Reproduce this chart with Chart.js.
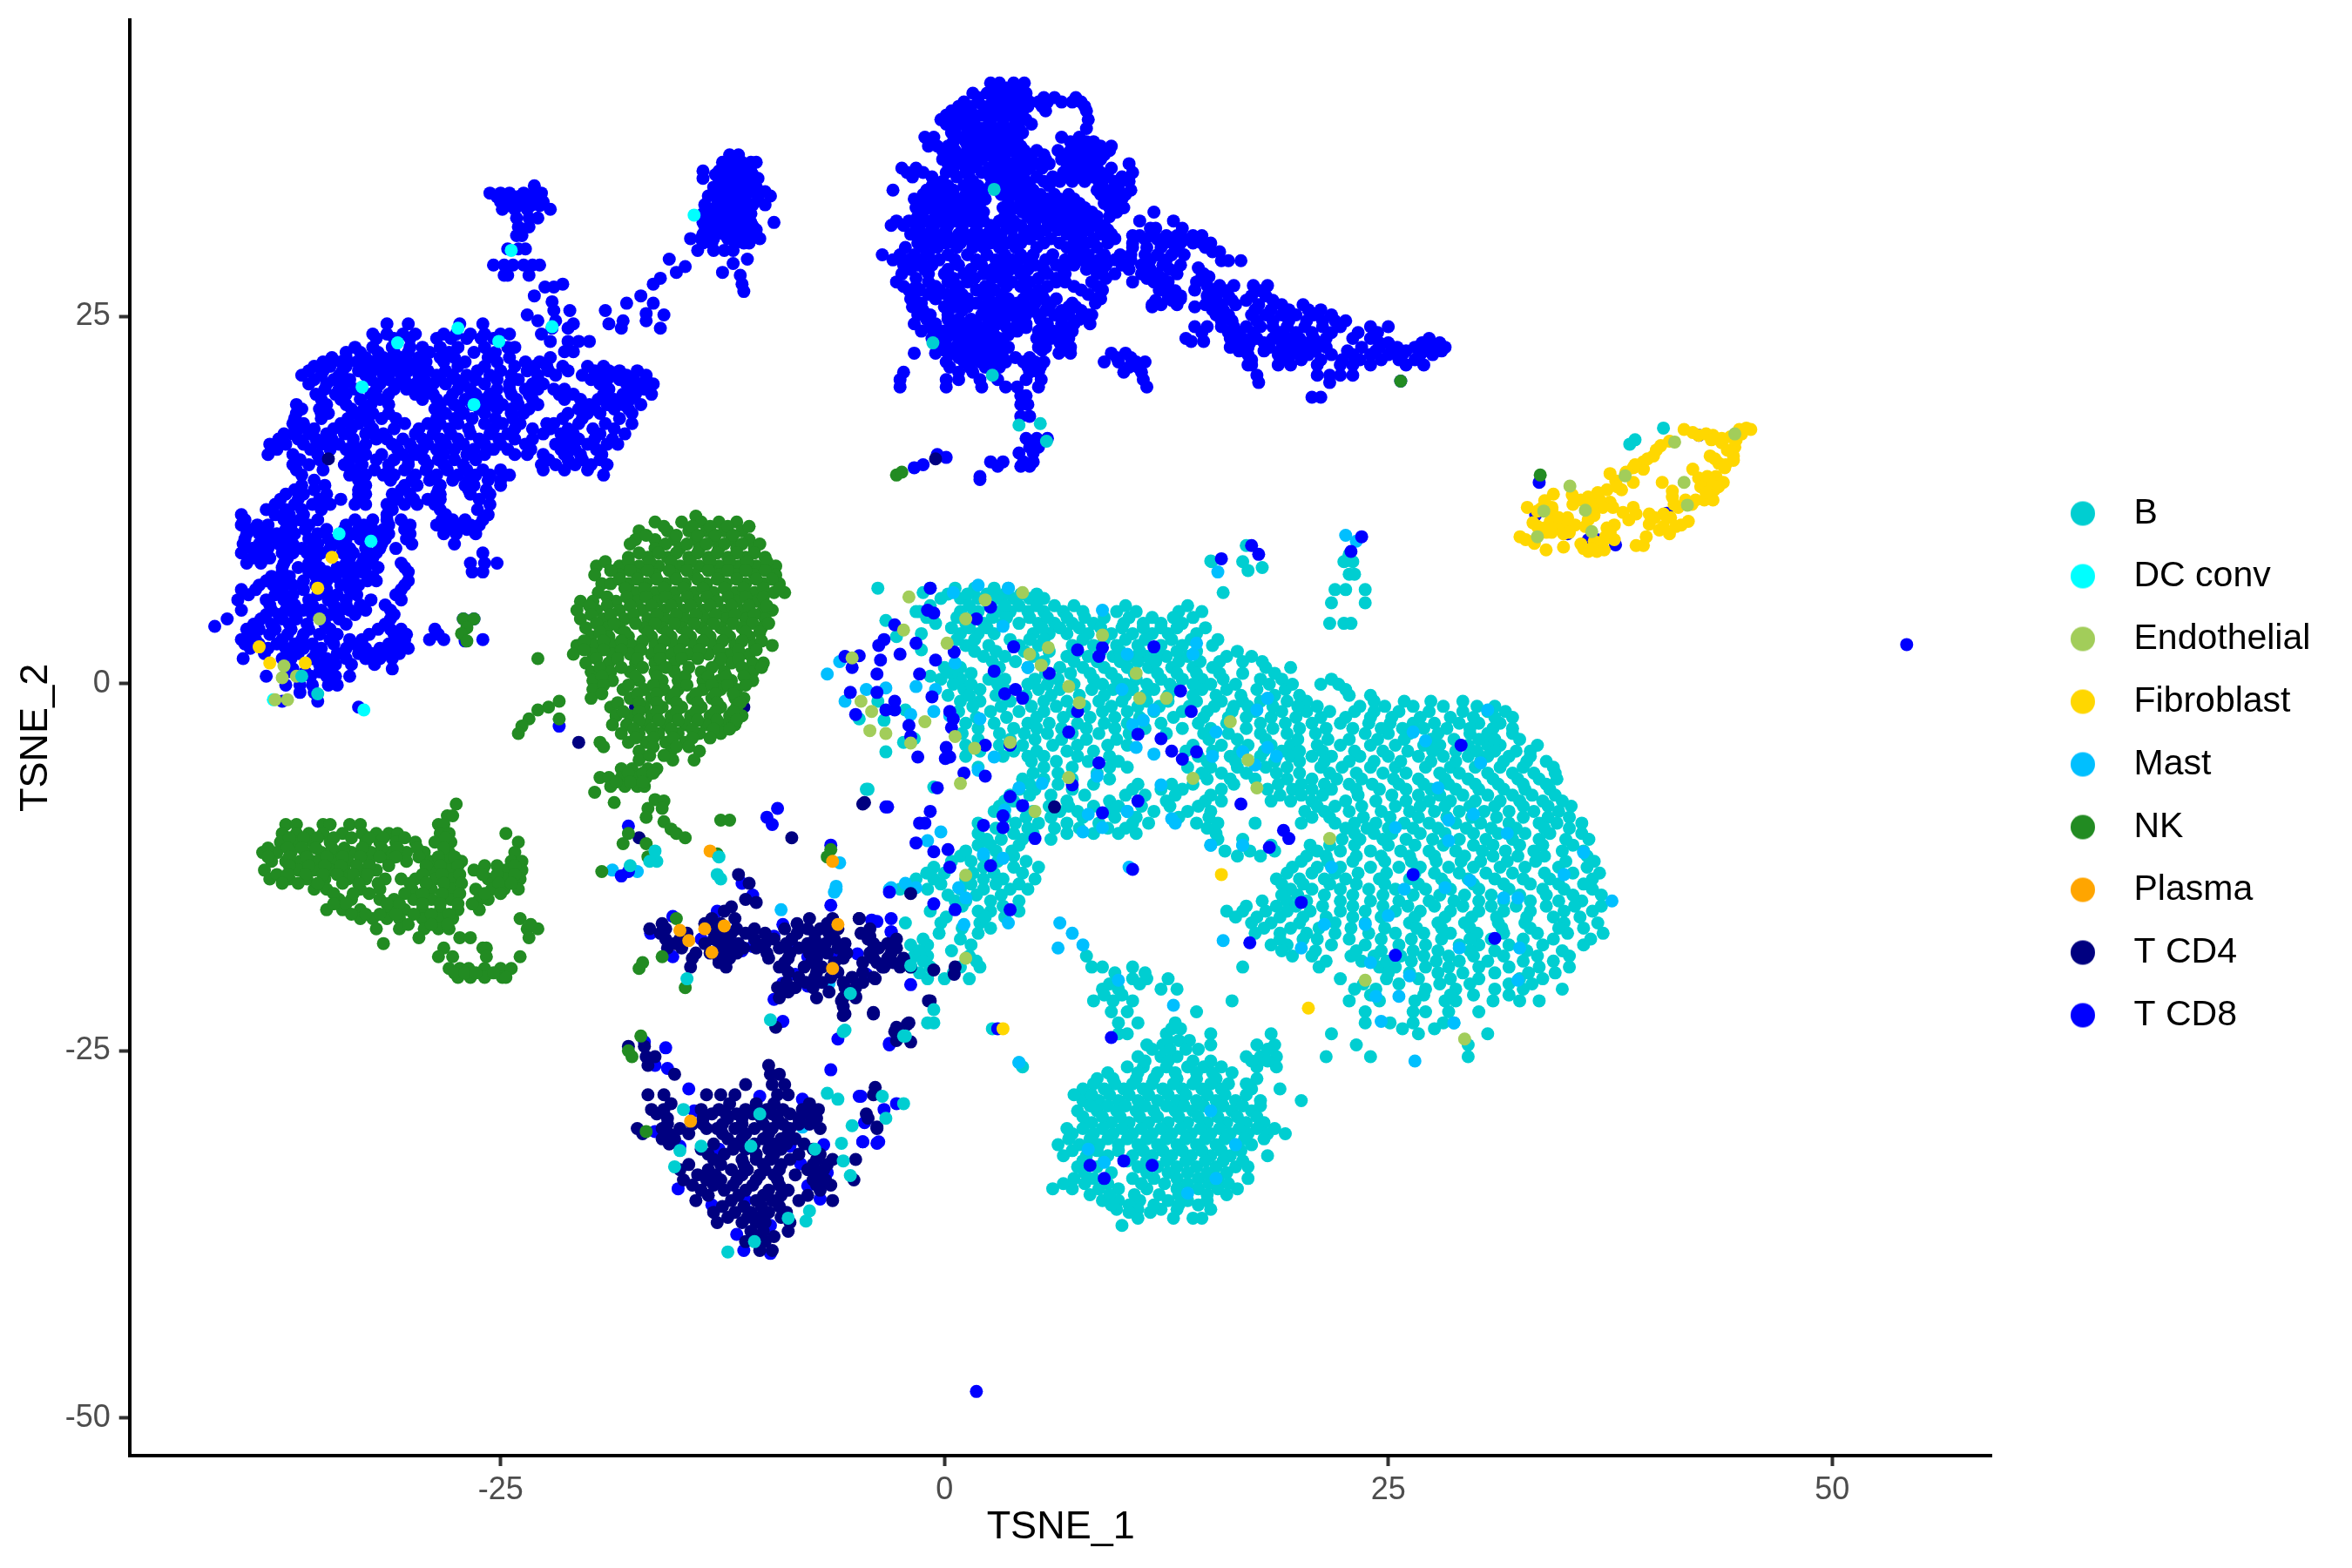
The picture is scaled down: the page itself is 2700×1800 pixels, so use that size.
<!DOCTYPE html>
<html>
<head>
<meta charset="utf-8">
<title>TSNE</title>
<script src="https://cdn.jsdelivr.net/npm/chart.js@4"></script>
<style>
  html, body { margin: 0; padding: 0; background: #fff; }
  canvas { display: block; }
</style>
</head>
<body>
<canvas id="graf" width="2700" height="1800"></canvas>
<script>
// values. *Rows = [TSNE_2, TSNE_1, TSNE_1, ...], *Pts = [TSNE_1, TSNE_2]
const kategorie = ['B', 'DC conv', 'Endothelial', 'Fibroblast', 'Mast', 'NK', 'Plasma', 'T CD4', 'T CD8'];
const barvy = ['#00CED1', '#00FFFF', '#A2CD5A', '#FFD700', '#00BFFF', '#228B22', '#FFA500', '#000080', '#0000FF'];
const xTicks = [-25, 0, 25, 50];
const yTicks = [-50, -25, 0, 25];

const bRows = [
[8.35,22.6,15],[7.9,17.9],[7.45,22.8,23.1],[6.5,-3.75,-.8,.6,1.7,2.8,3.6],[6.4,22,22.6,23.7],[5.8,-.2,.9,1.9,3,3.9,4.8,5.6],[5.5,21.8,23.7],
[4.9,-1.4,.9,1.9,3,3.7,4.7,5.6,6.7,7.8,9.7,10.8,13.2,14.5],[4.1,-.5,1.2,2.2,3.3,4.2,5.3,6.2,7.2,8.4,10.1,11.2,12.2,13.4,21.7,22.5,22.9],
[3.4,-1.3,.9,1.9,2.8,5,5.9,6.9,8.1,9.4,10.6,11.7,12.6,14.2],[2.6,1.2,2.5,4.2,5.3,7.2,8.4,9.7,10.9,12.2,13.4,15.1],
[1.85,2.2,3.4,5,6.9,8.1,9.5,10.4,11.4,12.5,13.7,15.9,17.3],[1.1,0,.9,3.1,4.7,6.5,7.8,9,10.3,11.5,12.8,14,15.1,18.1,19.5],
[.3,-.2,.9,2.5,3.4,5.1,6.4,8.4,9.7,10.8,12.2,13.4,14.5,15.7,17.8,19,21.8],[-.4,1.1,2,3.4,5.3,6.5,8.3,9.5,10.6,11.8,13.1,14.5,15.9,17.6,19.2,22.6],
[-1.2,.9,2,3.7,5.6,6.9,8.7,10,11.4,12.6,14.2,15.6,16.8,17.8,19.3,20.4,24.2,25.9,27.4,29.2],
[-1.9,.8,2.6,4.2,5.6,7.2,8.9,10.3,11.8,13.4,14.8,16.2,17.5,19,20.4,21.7,23.1,24.2,25.6,27.3,29.2,30.6,31.6],
[-2.7,1.2,2.8,4.7,5.9,7.5,9,10.3,12.2,14.3,15.9,17.8,19.2,20.7,22.3,23.9,25.1,26.4,27.6,29,30.1,31.3],
[-3.4,1,3.1,4.5,5.8,7.2,8.7,10.4,12.5,14.6,16,17.8,19.3,20.9,23.7,25,26.2,27.8,29.6,30.6,32],
[-4.2,1.2,3.1,4.4,6.1,7.5,9.2,10.3,14,15.6,17.1,18.4,19.5,21,22.3,24,25.4,27,27.9,29.5,30.6,31.3,33.4],
[-4.95,1.2,3.3,4.7,5.6,7.5,9.3,14.3,16.1,17.8,19.5,20.7,21.8,23.4,25,26.7,28.1,29.5,30.6,31.8,33],
[-5.7,1.9,5.6,7.2,9.3,10.3,13.7,15,16.5,18.1,19.3,21.2,22.4,24,25.4,27.1,28.5,29.9,31.3,32.6,34.3],
[-6.5,4.4,5.6,7.2,9.3,14.8,16.1,17.5,19.3,20.7,22.1,23.5,25.3,26.7,28.2,29.5,30.9,32.3,33.5,34.5],
[-7.2,4.2,5.1,7.2,10.6,12.2,13.4,15.6,18.2,19.6,20.7,21.8,23.2,24.5,26,27.4,28.8,30.1,31.5,32.7,34.1],
[-8,3.4,3.9,6.9,9.3,10.9,12.5,14.7,15.6,18.4,19.5,20.7,22.6,24.3,26,27.3,28.5,29.9,31.3,32.4,33.7,34.8],
[-8.7,2.8,5,6.5,7.5,9.3,10.3,11.8,13.7,15,20.3,21.4,22.8,24.6,26.2,27.6,29,30.4,31.8,33.2,34.6],
[-9.5,1.9,4,5.3,6.9,8.7,10.6,11.5,14.2,15.4,17.5,20.1,22,23.1,24.3,25.9,27.3,28.8,30.2,31.8,33.5,34.5,35.9],
[-10.2,1.9,3.9,5,6.9,8.4,9.8,10.8,15.3,23.1,24.2,25.2,26.8,28.2,29.8,31.2,32.7,34.1,35.9],
[-11,1.9,2.6,4.2,15,16.8,18.4,20.6,21.7,23.1,25,26.5,28.1,29.8,30.9,32.4,33.7,35.4],
[-11.75,.9,2.2,3.9,16.5,17.8,20.4,21.5,23.2,24.6,26.2,27.6,29.3,30.9,32.3,33.8,36.2],
[-12.5,-.6,.3,2.2,3.9,5.3,19.6,21,22.3,24,25.6,26.8,28.4,29.8,31.3,32.7,34.6,36.2],
[-13.3,-1.6,-.6,1.2,2.2,3.3,5.1,18.7,20,21.4,22.6,24.5,26.2,28,29.5,31,32.6,34.1,36.5],
[-14,-2.5,-.95,.9,2.2,3.7,4.7,19.5,20.7,22.3,23.9,25.4,27.1,28.5,30.1,31.8,33.7,34.9,36.5],
[-14.8,.6,1.2,2.6,4.2,17.9,19.3,20.4,22.3,24,25.6,27.3,28.7,30.1,31.5,33,34.6,35.9],
[-15.5,-.8,1.9,2.6,4.2,15.9,16.8,18.1,19.3,20.6,22.3,23.7,25.4,26.8,28.5,30.1,31.5,33,34.9,36.5],
[-16.3,-2.2,-.2,2,17.3,18.4,20,22,23.7,26.2,27.8,29.3,31.2,32.7,34.9,36.8],
[-17,-.3,1.9,17.5,18.9,20.4,22,23.9,25.4,27,28.5,30,31.5,33.4,35.1,37.1],
[-17.8,-1.9,-.95,1.5,18.4,19.3,21.8,23.7,25.6,27.1,29,30.1,31.8,33.7,36],
[-18.55,-1.7,-.95,1.4,8,19.6,20.7,22.9,24.2,25.7,27,28.4,29.8,31.5,33.4,35.2],
[-19.3,-1.9,-.8,.9,2,8.3,8.9,10.6,16.8,21.1,24.5,25.4,27.1,28.4,30.1,31.8,33.5,35.2],
[-20.1,-.95,0,1.4,10.6,11.4,12.6,22.3,24.9,26.7,28.5,30.1,32.4,33.7],[-20.8,8.9,9.8,12.2,13.1,23.1,24.3,27.1,28.8,31,32.6,34.8],
[-21.6,8.4,9.5,10.6,16.2,22.8,24.5,26.5,28.2,28.8,30.9,32.4,33.5],[-22.35,9.4,10.3,14.2,23.7,26.4,27.1,28.4,30.1],
[-23.1,-.6,-.95,9.8,10.9,13,23.7,25.1,26.4,28.1,28.7],[-23.85,9.8,10.3,12.5,15,18.4,21.8,26.7,30.6],[-24.6,11.4,12.3,15,17.6,18.6,23.2,29.5],
[-25.4,10.9,12.2,13.1,17,17.8,18.7,21.5,24,29.5],[-26.1,10.3,11.2,12.5,13.7,14.6,15.6,17.6,18.7],[-26.9,8.6,9.5,10.8,11.8,13.1,14.2,15.3,17.6],
[-27.6,7.8,9,10.1,11.2,12.3,13.4,14.5,15.6,17.3,18.9],[-28.4,7.8,8.7,9.8,10.9,12,13.1,14.2,15.3,16.4,17.8,20.1],
[-29.1,7.5,8.6,9.7,10.8,11.8,13,14,15.1,16.2,17.3],[-29.9,8.3,9.4,10.4,11.5,12.6,13.7,14.8,15.9,17,18],
[-30.65,7.2,8.4,9.5,10.6,11.7,12.8,13.9,15,16.1,17.1,18.2,19.2],[-31.4,6.4,7.6,8.7,9.8,10.9,12,13.1,14.2,15.3,16.4,17.3],
[-32.15,6.7,8,9.2,10.6,11.7,12.8,13.9,15,16.1,18.2],[-32.9,7.5,8.6,10.9,12,13.1,14.2,15.3,16.4,17.1],[-33.7,7.3,8.4,10.6,11.8,13.1,14.3,15.4,17.1],
[-34.4,6.1,7.2,8.7,9.8,11.4,13.1,14.3,15.4,16.5],[-35.2,8.9,9.8,11,12.6,13.7,14.8],[-35.8,9.7,10.9,12.2,13.1,15],[-36.4,10.9,12.9,14,14.5],[-36.9,10],
// mezi radky
[6.1,.2,1.3,2.4,3.4,4.3,5.2],[5.3,-.8,1.4,2.5,3.4,4.2,5.2,6.2,7.3,10.2,13.7],[4.5,-1,.7,1.5,2.7,3.5,4.8,5.8,6.9,7.9,9,10.4,11.7,12.9,14],[3.8,.4,1.4,2.4,5.5,6.5,7.6,8.8,10,11.2,12.2,13.1,14.7],
[3,.7,1.7,3.7,4.8,5.6,7.8,9,10.2,11.3,12.8,13.9,15.4],[2.2,1.7,2.9,4.5,5.9,7.5,8.8,9.9,11,12,13.1,14.2,16.5],[1.5,2.7,4,5.6,7.3,8.6,9.9,10.9,11.9,13.2,14.4,15.5,16.8,17.9],[.7,.4,1.5,2.8,5.7,7.1,8.2,9.4,10.7,12,13.1,14.2,15.5,16.8,18.6],
[-.05,.5,1.5,3,4.7,5.8,7.3,8.9,10.2,11.4,12.7,14,15,16.4,18.3,19.6,21.2,22.2],[-.8,.2,1.4,2.9,4.6,6,7.6,9,10.2,11.3,12.6,14,15.3,16.7,18.6,20,22.8,24],[-1.55,1.6,3.2,4.9,6.3,7.9,9.4,10.9,12.1,13.8,15.2,16.3,17.1,18.5,19.9,21,23.4,24.8,26.4,28.1,30,31],
[-2.3,1.8,3.5,5.2,6.7,8.2,9.6,11,12.9,14.6,16,17,18.4,19.8,21.2,22.6,24,25.2,26.8,28.5,29.8,31,32],[-3.05,1.9,3.9,5.2,6.6,8,9.6,11.3,13.4,15,17,18.5,20,21.5,23,24.6,25.8,27,28.3,29.6,30.9,32],[-3.8,1.9,3.7,5.1,6.6,8,9.7,14.9,16.5,18.1,19.9,21.6,22.8,24.4,25.9,27.4,28.7,30.1,31,32.4],
[-4.6,2,3.9,5.2,6.9,8.4,13.6,15.1,16.6,18,19,20,21.3,23.1,24.7,26.1,27.5,28.8,30,31,32.2,33],[-5.3,4.9,6.3,8.1,9.8,14.8,16.4,18.6,20,21.4,22.8,24.2,25.7,27.4,28.8,30.2,31.5,32.8,33.9],[-6.1,5,6.4,8.6,14.5,15.6,17,18.7,20,21.7,23.2,24.7,26,27.9,29,30.6,32,33.2,34.4],
[-6.85,4.8,6.4,8.4,10.9,12.8,14,16.3,18.8,20.1,21.4,22.8,24.1,25.6,27,28.4,29.9,31.2,32.6,33.9],[-7.6,3.7,4.8,6,7.9,10.2,11.3,13,15,18.9,20.1,21.3,23.3,25.2,26.7,27.9,29.2,30.6,32,33.1,34.4],[-8.35,3.1,4.4,5.9,7,8.4,9.8,11.1,12.7,14.3,21,22,23.5,25.4,26.8,28.2,29.6,31,32.6,34,35.3],
[-9.1,3.4,4.6,6,7.8,9.6,10.8,13.2,14.9,20.7,21.7,23.6,25.1,26.7,28.3,29.7,31.1,32.6,34,35.2],[-9.85,2.9,4.7,6.2,7.6,9.2,10.2,14.8,22.6,23.8,25,26.4,27.8,29.4,30.8,32.2,33.8,35.2],[-10.6,2.4,3.2,4.4,6,15.4,16.8,22.4,23.4,24.7,26,27.5,29,30.5,32,33.5,35,36.3],
[-11.4,1.2,2.9,3.8,15.8,17.2,18.6,21,22.3,24,25.7,27.3,28.8,30.3,31.6,33.2,34.8,36],[-12.1,.4,1.5,3,4.6,20.1,21.6,23,24.8,26.3,27.7,29.1,30.2,31.7,33.3,35,36.6],[-12.9,-1,0,1.6,2.8,4.4,19.3,20.7,22,23.3,24.9,26.5,27.6,29,30.5,32,33.8,35.4,36.9],
[-13.65,-1.8,-.2,1.5,2.9,4.2,19,20.2,21.7,23.2,24.8,26.7,28.2,29.8,31.5,33,34.6,36],[-14.4,.2,1.8,3.2,19,19.9,21.4,23,24.7,26.4,27.9,29.3,30.8,32.4,33.9,35.4,37],[-15.15,1,3.3,17,18.7,19.8,21.3,23,24.7,26.1,27.6,29.2,30.8,32.2,33.9,35.5,37],
[-15.9,.1,2.3,3.4,16.4,17.6,18.9,20.2,21.5,23,24.6,26.5,28.2,29.7,31.1,32.8,34.3,35.8],[-16.65,1,2.6,18,19.5,21.1,22.9,24.8,26.6,28,29.6,31.4,33,34.6,36],[-17.4,-1.2,.9,18.9,20.2,21,22.8,24.6,26.3,28,29.6,30.8,32.6,34.3,36.4],
[-18.2,-1.4,.4,19,20.9,23.2,24.6,26.4,27.8,29.6,31,32.8,34.8],[-18.9,-1.2,1.8,21.5,23.5,24.9,26.3,27.7,29,30.6,32.6,34.3],[-19.7,-1.4,.5,9.6,11.3,25,26.2,27.8,29.2,31,32.9,34.4],[-20.45,9.3,11,23.6,25.6,27.9,29.6,31.8,33.1],[-21.2,9,10,24,27,28.5,29.8,31.8],[-23.5,25.8,27.6,12.8,13.3],[-24.3,12.6,13.2,13.8],
[-24.9,11.7,12.7,14.3,18.2,13.6],[-25.7,11.3,12.6,14,15,17.3,18.2],[-26.5,9.2,10.9,12,13,14.2,15.1,16.2],[-27.25,8.4,9.6,10.6,11.7,12.9,14,15,16,17],[-28,7.3,8.3,9.3,10.4,11.5,12.6,13.6,14.8,15.8,17],[-28.75,8.2,9.2,10.2,11.3,12.5,13.5,14.6,15.7,16.8,17.8],
[-29.5,7.8,8.9,9.9,11,12,13.2,14.3,15.4,16.5,17.6],[-30.3,6.9,7.8,8.9,10,11.1,12.2,13.3,14.4,15.5,16.6,17.6,18.6],[-31,7,8.2,9.2,10.3,11.4,12.5,13.6,14.7,15.8,16.9,18],[-31.8,7.2,8.6,9.8,11.2,12.3,13.4,14.5,15.6,16.7],[-32.5,7.8,9,10.3,11.4,12.5,13.6,14.7,15.7,16.8],
[-33.3,7.9,9.4,11.4,12.6,13.7,14.8,15.9],[-34.05,6.7,7.9,9.2,11.1,12.4,13.7,14.9,16],[-34.8,8.2,9.3,10.7,12.1,13.2,14.8,15.9],[-35.5,9.4,10.4,11.8,13.2,14.3],[-36,10.4,11.6]
];
const bPts = [[-3.3,4.3],[-2.7,3.2],[-3.4,-2.5],[-3.3,-4.65],[-4.8,-2.4],[-3.75,-1.2],[-1.3,2.3],[.15,.8],[-.8,.5],[-2.2,-1.8],[-1.7,-3.75],[-2.3,-4],[-4.4,-7.2],[-.6,-7.05],[-1.2,6.2],[-1.6,4.9],
[22.8,8.8],[22.5,8.3],[23,8.3],[17,9.4],[16.8,8.3],[15.05,8.3],[15.7,6.2],[17.1,7.7],[4.2,-25.8],[4.4,-26.1],[2.7,-23.5],[40.5,17.4],[38.9,16.6],[38.6,16.3]];
// B dots that sit on top of the other clusters
const bNahoreRows = [
[33.65,2.8],[23.2,-.65],[21,2.7],[17.6,4.2],[17.7,5.4],[16.5,5.75],[-.7,-35.3],[.5,-36.2],[-11.4,-16.3],[-12.1,-16.2],[-12.1,-16.6],[-12.4,-17.7],[-13,-12.8],[-13.3,-12.6],[-11.8,-12.7],
[-20.1,-14.5],[-7.2,-4.3],[-22.9,-9.8],[-23.7,-5.7],[-24,-2.3],[-21.1,-5.3],[-27.9,-6.6],[-28.3,-6],[-28.1,-3.5],[-28.6,-2.3],[-29.6,-3.3],[-30.1,-5.2],[-31.3,-5.8],[-31.7,-7.3],[-32.5,-5.7],[-33.5,-5.3],
[-32.9,-15.2],[-29.3,-10.4],[-35.9,-7.6],[-36.6,-7.8],[-36.4,-8.8],[-38.7,-12.2],[-38,-10.7],[-29,-14.7],[-31.8,-14.9],[-31.5,-13.7],[-31.5,-10.9],[-24,-2.2],[-23.6,-5.6],[-22.2,-.6],[-19.2,-1.9]
];
const dcPts = [[-24.4,29.5],[-14.1,31.9],[-32.8,20.2],[-30.8,23.2],[-25.1,23.3],[-27.4,24.2],[-26.5,19],[-32.3,9.7],[-34.1,10.2],[-22.1,24.3],[-37.8,-1.1],[-32.7,-1.8]];
const endoPts = [[-35.2,4.4],[-37.2,1.2],[-37.3,.4],[-36.5,.5],[-37.7,-1.1],[-37,-1.1],
[-2,5.9],[4.4,6.2],[2.3,5.7],[-2.3,3.65],[1.2,4.4],[.15,2.75],[4.8,2],[5.85,2.45],[5.45,1.25],[8.9,3.3],[10.8,.7],[7,-.2],[-5.2,1.75],[-4.7,-1.2],[-4.1,-1.9],[-4.2,-3.2],[-3.3,-3.4],[-1.1,-2.6],[-1.9,-4.05],[1.7,-4.4],[3.7,-4],[16.1,-2.6],[17.1,-5.2],[14,-6.45],[17.6,-7.1],[.9,-6.8],[7,-6.4],[5.1,-8.7],[1.2,-13.05],[1.2,-18.7],[21.7,-10.55],[23.7,-20.2],[29.3,-24.2],[12.5,-1],[11,-1],[7.6,-1.3],[.6,-3.6],
[44.52,17],[41.13,16.45],[38.34,14.15],[41.66,13.7],[35.23,13.45],[33.76,11.75],[36.1,11.8],[41.85,12.15],[36.46,10.35],[33.4,10]];
const fibroRows = [
[17.4,45.17],[17.3,41.66,44.77,45.42],[17.1,42.15],[16.9,43.29,42.48],[16.8,44.27],[16.7,43.78],[16.5,40.84],[16.4,43.78],[16.2,40.35],[16.1,44.52],[15.5,39.94,43.13,44.44],[15.2,44.44],[15.1,39.37],[15,43.62],[14.7,38.8,43.95],[14.6,39.37,42.15],[14.4,38.39],[14.3,37.49],[14.1,42.97,43.46],[14,42.48],[13.8,37.81,43.13],[13.7,38.8,40.43,43.87,42.8],[13.2,37.32,38.14,43.37],[13.1,41],[12.85,35.36],[12.9,34.3],[12.7,36.26,41],[12.5,36.91,35.85,41.74,42.31,42.8,43.29],[12.45,33.81],[12.35,37.49],[12,32.83,37.08,37.65,41.33,34.22],[11.85,34.22],[11.75,33.4],[11.65,38.22],[12,38.8],[11.55,39.7,40.51,38.96],[11.45,36.59],[11.15,36.26,38.55],[11.05,34.13,41.9],[10.95,33.15],[10.85,34.95,39.7],[10.8,35.52,37.73,41.5],[10.6,34.54,33.81,37.32],[10.45,40.27],[10.2,34.87,40.84],[10,32.42,37.24,39.53],[9.8,32.74,37.73],[9.55,33.23],[9.4,38.96,39.37],[9.3,34.87],[9.5,35.85],[9.1,33.89,37.16],[9,36.26,36.75],
[17,42.9,44.9],[16.6,43.2,44.6],[15.9,40.1,44.1],[15.3,39.6,43.4],[14.9,38.9,44],[13.4,42.6,43.6,37.9],[13,42.9,36.8],[12.2,36.3,35.4,42.1,41.1],[11.9,36.5,33.6],[11.3,34.6,35.1,40,40.9],[10.7,33.4,36.1,40.5,41.2],[10.3,33.9,34.2,35.2,37.5],[9.7,33.2,36.6,37.1],[9.2,36,36.5]];
const fibroPts = [[-34.5,8.6],[-38.6,2.5],[-38,1.4],[-36,1.4],[-35.3,6.5],[20.5,-22.1],[3.3,-23.5],[15.6,-13]];
const mastPts = [[8.9,5],[14,2],[14.2,2.75],[18.2,-1],[17.6,-1.8],[18.2,-4.35],[17.5,-5.55],[16.8,-4.65],[18.7,-4.95],[11.8,-1.8],[11.2,-2.5],[10.6,-2.8],[10.8,-4.35],[10,-.4],[10.3,2],[11.8,-4.8],[15.3,-3.3],[15.1,-4.95],[8.6,-6.3],[8.1,-8.9],[8.9,-9.8],[10.3,-8.7],[12.2,-6.9],[13,-9.5],[7.8,-10.1],[3.4,-8.6],[-.2,-10.1],[2.2,-11.6],[3.3,-11.9],[.8,-13.9],[1.2,-14.6],[-3,-13.9],[-1.6,-13.9],[3.6,-16.3],[1.1,-16.4],[7.2,-17],[6.4,-18],[7.8,-17.8],[6.5,-16.3],[15.7,-17.5],[20.1,-18],[21.8,-12.5],[26.4,-3.3],[27.1,-3.9],[30.6,-1.8],[30.2,-5.4],[28.4,-10.7],[25.4,-9.8],[25.9,-14],[31.5,-14.6],[32.3,-14.6],[29,-18],[32.4,-18],[32.3,-20.2],[26.2,-19.9],[25.6,-21.3],[24.3,-21.3],[24.6,-23],[28.7,-23.1],[26.5,-25.7],[37.6,-14.8],[36,-11.5],[34.9,-13],[12.8,-9.2],[10.4,-12.5],[15,-11],[16.8,-11],[21.4,-16.4],[24,-19],[23.7,-16.4],[25,-15.8],[28.2,-13.9],[29.6,-13.4],[31.7,-10.2],[28.4,-9.3],[27.8,-7.1],[29.8,-8.9],[4.2,-25.8],[12.9,-21.9],[9.8,-20.2],[15,-29.1],[9,-32.6],[13.7,-34.7],[16.4,-31.4],[15.3,-33.7],[8.1,-31.7],
[-5.9,1.5],[-6.6,.65],[-4.4,-.4],[-5.6,-1.2],[-3.3,-.3],[-1.6,-.2],[-.5,-.4],[-.6,-1.9],[-1.9,-2.1],[.3,-2.2],[.6,1.4],[-.95,-10.7],[2,-2.4],[1.9,-5.9],[2.8,-5],[3.6,6.5],[1.9,6.7],[.5,6.2],[3.3,3.9],[4.7,1.1],[5.5,-6.8],[4.2,-7.1],[-6.1,-14],
[-18.7,-12.7],[-17.3,-12.8],[-9.2,-15.4],[-8,-30.2],[-6.5,-20.4],[-6.1,-13.8],[-6.2,-14.2],[-5.9,-12.2],[-3.1,-14],[-2.2,-13.6],[22.6,10.1],[23.2,9.7],[15.4,7.6]];
const nkRows = [
[11.4,-14],[11,-16.3,-14.8,-13.7,-12.7,-11.7],[10.4,-17.2,-15.6,-14.4,-13.4,-12.4,-11.4],[9.8,-17.4,-16.3,-15.2,-14,-13,-12,-11],[9.2,-16.3,-14.9,-13.8,-12.7,-11.7,-10.7],
[8.6,-17.8,-16.7,-15.6,-14.4,-13.3,-12.2,-11.2,-10.1],[8,-19.6,-18.3,-17.2,-16.1,-14.9,-13.8,-12.7,-11.6,-10.6,-9.5],[7.4,-19.7,-18.3,-17.3,-16.3,-15.2,-14.1,-12.7,-11.7,-10.7,-9.5],
[6.8,-19.3,-18.8,-17.8,-16.8,-15.7,-14.6,-13.4,-12.3,-11.2,-10.2,-9.3],[6.2,-19.5,-17.4,-16.3,-15.2,-14.1,-13,-11.8,-10.7,-9.6,-9],[5.6,-20.5,-19.8,-18.5,-17.3,-16.2,-15.1,-14,-12.8,-11.7,-10.6],
[5,-20.7,-19.6,-18.3,-17,-15.8,-14.7,-13.6,-12.4,-11.3,-10.2,-9.7],[4.4,-20.5,-19.2,-18,-16.7,-15.7,-14.6,-13.4,-12.3,-11.2,-10.1],[3.8,-20.2,-19,-18.3,-16.9,-15.9,-14.8,-13.7,-12.6,-11.4,-10.3],
[3.2,-19.9,-18.9,-17.8,-16.5,-15.4,-14.3,-13.2,-12.1,-11],[2.6,-20.7,-19.7,-18.7,-17.6,-16.3,-15.2,-14.1,-13,-11.8,-10.7,-9.7],[2,-20.9,-19.8,-18.7,-17.7,-16.5,-15.4,-14.4,-13.3,-12.2,-11],
[1.4,-20.2,-18.9,-17.4,-16.3,-15.2,-12.7,-12,-10.8,-10.2],[.8,-19.9,-18.8,-17.7,-16.3,-15.2,-13.7,-12.4,-10.8],[.2,-19.8,-18.7,-17.2,-15.9,-15,-13.6,-12.7,-12,-10.8],[-.4,-19.8,-18.1,-16.9,-15.8,-15,-13.6,-12.6,-11.7],
[-1,-19.9,-17.7,-16.5,-15.4,-14.2,-13.1,-11.8,-11.3],[-1.6,-18.8,-16.9,-15.9,-14.8,-13.7,-12.6,-11.7],[-2.2,-18.5,-17.7,-16.5,-15.4,-14.3,-13.2,-12.1,-11.4],[-2.8,-18.7,-17.9,-16.8,-15.7,-14.6,-13.4,-12.4,-11.8],
[-3.4,-18.2,-17.2,-16.1,-15,-13.8,-12.6],[-4,-19.4,-17.8,-16.8,-15.7,-14.6],[-4.6,-17.2,-15.4,-13.8],[-5.2,-17.2,-15.3,-14.1],[-5.8,-18.2,-17.6,-16.7,-16.2],[-6.4,-19.4,-18.9,-18.2,-17.4,-16.8],[-7,-18.8,-18,-17.3,-16.9],[-7.4,-19.7],[-8.1,-18.6],
[-8.2,-27.5],[-9,-28,-27.7],[-9.6,-37.1,-36.5,-35,-34.6,-33.5,-32.9,-28.5,-28.2],[-10.2,-37.3,-36.5,-35.8,-35,-33.9,-32.8,-32,-31.3,-30.8,-28.4,-27.9,-24.7],[-10.8,-37.4,-36.5,-35.6,-34.6,-32.6,-31.8,-30.9,-29.8,-28.7,-27.8,-24],
[-11.5,-38.4,-37.6,-36.8,-36,-35.1,-34.3,-33.4,-32.3,-31.2,-30.3,-29.3,-27.9,-24.2],[-12.1,-37.9,-37.1,-36.3,-35.4,-34.5,-33.6,-32.4,-31.3,-30.3,-29,-28,-27.2,-24.4,-23.8],
[-12.7,-38.3,-36.4,-35.5,-34.6,-33.8,-32.9,-32,-28.9,-27.9,-26.5,-26,-24.7,-23.8],[-13.3,-38,-36.9,-35.9,-34.9,-33.6,-32.6,-31.5,-30.6,-29.8,-28.7,-27.7,-25.7,-24.7,-23.9],
[-14,-35.5,-34.8,-32.9,-31.8,-30,-28.9,-27.8,-26.4,-25.5,-24.8,-24],[-14.7,-34.1,-33.4,-31.8,-31,-29.9,-28.9,-27.8,-26.2,-25.7],[-15.4,-34.8,-33.9,-32.9,-31.3,-30.4,-29.4,-28.4,-27.4,-26.2],
[-16,-32.9,-32.2,-31.4,-30.7,-29.4,-28.4,-27.7,-23.9],[-16.7,-32,-30.7,-29.3,-28.5,-27.9,-23.5,-22.9],[-17.3,-29.6,-27.3,-26.7,-23.4],[-17.7,-31.6],[-18,-28.2,-26,-25.8],[-18.6,-28.5,-27.7,-25.8,-23.9],[-19.4,-27.9,-27.3,-26.8,-25.9,-25,-24.4],[-20,-27.4,-26.7,-25.9,-24.9,-24.7],
// mezi radky
[10.7,-15.8,-14.2,-13.2,-12.2,-11],[10.1,-16.8,-15.1,-13.9,-12.9,-11.9],[9.5,-17.7,-15.7,-14.5,-13.4,-12.4,-11.4,-10.4],[8.9,-17.2,-16.1,-15.1,-13.9,-12.8,-11.7,-10.7],[8.3,-19.1,-17.8,-16.6,-15.4,-14.3,-13.2,-12.1,-11.1,-10],[7.7,-18.8,-17.7,-16.7,-15.5,-14.5,-13.3,-12.2,-11.2,-10.1],
[7.1,-18.3,-17.3,-16.2,-15.1,-13.9,-12.8,-11.7,-10.6,-9.7],[6.5,-18,-16.9,-15.8,-14.7,-13.6,-12.4,-11.3,-10.2,-9.3],[5.9,-19,-17.9,-16.8,-15.7,-14.5,-13.4,-12.2,-11.2,-10.2],[5.3,-20,-19,-17.7,-16.5,-15.4,-14.3,-13.2,-12,-11,-10],[4.7,-19.9,-18.8,-17.5,-16.2,-15.1,-14,-12.9,-11.8,-10.7],
[4.1,-19.6,-18.6,-17.4,-16.3,-15.2,-14.1,-13,-11.9,-10.8,-9.9],[3.5,-19.4,-18,-16.7,-15.6,-14.5,-13.4,-12.3,-11.2,-10.4],[2.9,-20.3,-19.2,-18.2,-17,-15.8,-14.7,-13.6,-12.5,-11.4,-10.3],[2.3,-20.3,-19.2,-18.2,-17.1,-16,-14.9,-13.8,-12.7,-11.6,-10.6],[1.7,-19.6,-18.4,-17.3,-16,-14.8,-13.9,-12.6,-11.6],
[1.1,-19.4,-18.2,-17,-15.7,-14.4,-13.1,-11.4,-10.3],[.5,-19.3,-17.4,-16.2,-14.6,-13.3,-12.3,-11.3],[-.1,-19.2,-17.8,-16.4,-14.5,-13.1,-12.2,-11.2],[-.7,-19.3,-17.3,-16.2,-15.2,-14,-12.9,-11.9],[-1.3,-18.4,-17.2,-16.2,-15.1,-13.9,-12.8,-11.5],[-1.9,-18.1,-17.2,-16.2,-15.1,-14,-12.9,-11.9],
[-2.5,-17.2,-16.1,-15,-13.9,-12.8,-11.7],[-3.1,-17.5,-16.5,-15.4,-14.2,-13,-12.1],[-3.7,-17.4,-16.4,-15.3,-14.2,-13.2],[-4.3,-19.2,-16.4,-15.1,-14.4],[-4.9,-16.6,-15.8],[-6.1,-17.8,-17,-16.4],[-6.7,-18.5,-17.7,-17],
[-10.5,-36.9,-36.1,-35.3,-34.4,-33.4,-32.4,-31.6,-30.4,-28.1],[-11.2,-38.1,-37,-36.2,-35.4,-34.5,-33.8,-32.8,-31.7,-30.8,-29.7,-28.2],[-11.8,-38.1,-36.9,-35.9,-34.8,-33.9,-32.9,-31.8,-30.9,-29.6,-28.5,-27.6],[-12.4,-36.9,-35.8,-34.9,-34,-33.1,-32.4,-31.3,-29.2,-28.4,-27.4,-25.9,-25.2,-24.2],
[-13,-37.6,-37,-36,-35,-34.2,-33.3,-32.5,-29.4,-28.3,-27.3,-26,-25.2,-24.2],[-13.6,-37.3,-36.4,-35.3,-33.9,-33,-31.9,-30.1,-29.2,-28.2,-27.2,-25.1,-24.4],[-14.3,-34.4,-33.3,-32.4,-30.4,-29.4,-28.3,-27.3,-25.9,-25],[-15,-34.4,-33.7,-31.4,-30.7,-29.4,-28.4,-27.4,-26.6],[-15.7,-33.4,-32.6,-31.8,-30.9,-29.9,-28.9,-27.9],[-16.4,-30.2,-28.9,-28,-23.3],[-19.7,-27.6,-27,-26.4,-25.4]
];
const nkPts = [[-21.7,-1.2],[-22.3,-1.6],[-22.9,-1.8],[-23.4,-2.4],[-23.8,-2.9],[-24,-3.4],[-21.7,-2.4],[-22.9,1.7],[-16.3,-7.9],[-15.8,-8],[-16.7,-8.5],[-15.9,-8.5],[-16.8,-9.1],[-15.8,-9.4],[-15.4,-9.9],[-15.1,-10.2],[-14.6,-10.5],[-12.6,-9.3],[-12.1,-9.3],[-17.8,-10.2],[-18.1,-10.9],[-16.8,-10.9],[-16.7,-11.8],[-19.3,-12.8],[-15.1,-16],[-15.9,-18.6],[-17.2,-19.4],[-17,-19],[-14.6,-20.7],[-6.4,-11.3],[-6.6,-11.8],[-17.8,-25],[-17.6,-25.4],[-17.1,-24],[-16.8,-30.5],[25.7,20.6],[-2.7,14.2],[-2.4,14.4],[33.56,14.2],[-27.1,4.4],[-26.5,4.4],[-26.9,3.8],[-27.2,3.4],[-26.9,2.9],[-12.8,-11.6]];
const plasmaPts = [[-13.2,-11.4],[-6.3,-12.1],[-14.9,-16.8],[-13.5,-16.7],[-14.4,-17.5],[-12.4,-16.5],[-13.1,-18.3],[-6,-16.4],[-6.3,-19.4],[-14.3,-29.8]];
const tCd4Rows = [
[-16,-13.1,-11.8,-7.6,-6.3,-4.8],[-16.7,-16.6,-15.7,-13.2,-12.4,-11.7,-10.7,-9,-7.7,-7,-6,-4.2],[-17.4,-15.7,-14.9,-13,-12.2,-10.7,-9.6,-8.6,-7.3,-6.2,-4.3,-2.7],
[-18,-15.6,-14.8,-12.7,-12.1,-11.3,-10.6,-9.3,-8.2,-7.1,-6,-3.7,-2.7],[-18.7,-14.2,-12.7,-12.1,-9.9,-8.8,-7.2,-5.7,-4,-3.2,-2.3],[-19.3,-14.3,-12.3,-9.3,-7.9,-6.9,-3.5,-2.5],
[-20,-8.2,-7.3,-6.4,-5.2,-4],[-20.7,-9.4,-8.4,-7.4,-5.6,-5],[-21.4,-9.3,-7.2,-5.7,-5],[-22,-5.7],
[-24.7,-17.8,-16.9],[-25.4,-16.8,-16.3],[-26,-9.9,-16.7],[-26.6,-15.2,-9.8,-9.3],[-27.3,-11.2,-9.7,-9],[-28,-16.7,-15.8,-13.4,-12.6,-11.8,-9.4,-8.8,-4],
[-29,-16.5,-15.8,-13.7,-12.7,-11.2,-10,-9.1,-8,-7.1],[-29.6,-15.6,-13.6,-12.2,-11.4,-10.3,-9.4,-8.2,-7.2,-4.3],[-30.3,-17.3,-15.9,-14.9,-13.4,-12.8,-11.8,-10.7,-9.7,-8.7,-7,-3.8],
[-31,-15.9,-15.2,-12.2,-11.4,-10.2,-9.2,-8.4],[-31.7,-13.7,-11.9,-11.2,-9.9,-9.2,-7.4],[-32.4,-13,-11.4,-10.6,-9.8,-8.7,-7.2,-6.3,-5],[-33.1,-14.9,-13.3,-12,-11.1,-10.1,-9.3,-7.7,-6.8],
[-33.8,-14.7,-13.4,-12.6,-11.7,-10.6,-9.4,-7.4,-6.7,-5.1],[-34.5,-13.7,-12.4,-11.2,-9.9,-8.8,-7],[-35.2,-14,-12,-10.6,-9.7,-8.2,-6.3],[-36,-13,-11.8,-10.9,-9.9,-8.9],[-36.7,-12.8,-11.4,-10.6,-10.1,-8.7],[-37.3,-10.9,-10.2,-8.8],[-38,-11.2,-10.1,-10.6],[-38.6,-10.4,-9.7],
// mezi radky
[-16.35,-15.9,-13.5,-12.6,-8.3,-6.6],[-17,-16,-14.5,-12.7,-12,-11.2,-10.1,-8.3,-7.3,-6.5,-4.7],[-17.7,-15.2,-13.5,-12.6,-11.6,-10.1,-8.9,-7.7,-6.7,-5.6,-4,-3.2],[-18.35,-14,-13.2,-12.4,-11.7,-10,-8.7,-7.6,-6.6,-5.5,-4.2,-3],[-19,-12.7,-9,-7.5,-6.2,-4.6,-3.8,-2.9],[-19.65,-8.8,-7.2,-6,-4.6],[-20.35,-8.9,-7.8,-6.9,-5.7,-4.6],[-21,-8.8,-6.5,-5.4],
[-28.6,-15.4,-12.1,-10.6,-9.6,-7.6],[-29.3,-16.2,-13.1,-12.3,-11.7,-10.8,-9.7,-8.7,-7.7],[-30,-15.6,-14.2,-13.6,-12.5,-11.4,-10.2,-9.1,-8.2,-7.6],[-30.65,-17,-15.5,-14.4,-12.5,-11.2,-9.9,-8.8],[-31.35,-15.5,-13,-11.8,-10.7,-9.6,-8.9,-7.9],[-32.05,-13.3,-12.4,-10.6,-9.6,-8.2,-7],[-32.75,-14.4,-12.6,-11.3,-10.2,-9.2,-7.4,-6.6],[-33.45,-13.9,-12.9,-11.4,-10.4,-9.6,-8.4,-7.1],[-34.15,-14.2,-13,-11.9,-10.8,-9.3,-7.2,-6.4],[-34.85,-13.3,-11.6,-10.2,-9.2,-7.7],[-35.6,-12.5,-11.3,-10.3,-9.3],[-36.35,-12.2,-11.1,-10.4,-9.2],[-37.65,-10.6,-9.6]
];
const tCd4Pts = [[-11.6,-13],[-11,-13.6],[-11.2,-14.7],[-10.6,-14.9],[-12,-15.2],[-12.4,-15.5],[-8.6,-10.5],[-4.6,-8.2],[-20.6,-4],[-17.4,-1.6],[-16.3,-5.9],[-11.3,-1.6],[-17.2,-10.5],[-5.7,-22.6],[-4,-22.5],[-9.5,-23.4],[-2.8,-23.7],[-2.1,-23.2],[-34.7,15.3],[-.5,15.3],
[-4.5,-8.1],[6.2,-8.4],[-1.9,-14.3],[-.8,-21.6],[-4.8,-16],[-4.2,-17.2],[-3.8,-18],[-3.4,-19.3],[-2.5,-19],[-1.9,-19.3],[-.6,-19.5],[.55,-19.8],[.6,-19.3],[-3.9,-20.1],[-5,-21.3],[-5.8,-21.6],[-4,-22.4],[-.9,-21.6],[-5.6,-22.5],[-2.7,-23.4],[-2,-23.1],[-1.9,-24.4],[-2.7,-24.3],[-3.9,-27.5],[-4.4,-29.3],[-3.8,-30.2]];
const tCd8Rows = [
// horni shluk
[40.9,2.6,3.1,3.9,4.5],[40.2,1.6,2.4,3.2,3.9,4.6],[39.6,1.1,1.9,2.7,3.4,4.1,4.8,5.3,5.8,6.6,7.2,7.7],[39,.4,1.1,2.4,3.1,3.8,4.4,5.7,8],[38.4,-.2,.5,1.3,2.6,3.3,4,4.6,8.1],
[37.8,.6,1.4,2.1,2.9,3.7,4.2,8],[37.2,-1.1,-.6,.9,1.6,2.4,3.1,3.9,6.6,7.6],[36.6,-.9,-.4,.2,1.3,2,2.8,3.5,4.3,7.5,8.3,8.8,9.4],[36,.1,.9,1.7,2.5,3.3,4.1,4.7,5.6,6.8,7.5,8.3,9],[35.4,.2,1,1.8,3,3.7,4.4,5.2,5.9,6.9,7.6,8.4,10.4],
[34.8,-2.1,-1.2,.1,1.2,2.1,3.1,3.8,4.5,6.7,7.4,8.1,8.8,10.6],[34.2,-.1,1.6,3.2,3.9,4.6,5.6,6.5,7.2,7.9,8.7,9.6,10.4],[33.6,-2.9,-1,-.2,.5,1.5,2.2,3.7,4.4,5,8.6,9.4,10.5],[33,-1.7,-.8,0,.8,1.5,2.3,3.6,4.3,5.1,5.8,6.5,7.3,9.1,10],
[32.4,-1.6,-.8,.1,.9,1.6,3.3,4,5,5.7,6.5,7.2,7.9,9.3,10.1],[31.8,-1.5,-.5,.3,1.1,1.9,3.4,4.7,5.4,6.1,7,7.7,8.6,9.3],[31.2,-3,-2.3,-1.4,-.6,.2,1,1.8,2.6,3.5,4.3,5.1,6,6.8,7.6,8.4,9],
[30.6,-1.9,-1,-.1,.8,1.6,2.4,3.2,4.5,5.3,6.9,7.7,8.8,9.4],[30,-1.5,-.7,.1,.9,1.7,2.6,3.5,4.3,5.6,6.5,7.3,8,9.2],[29.2,-3.5,-2.5,-1.7,-.9,.2,1.3,2.4,3.4,4.3,5,6.1,7.3,8.1,9,9.9,10.5,11.3,12,12.8,13.5],
[28.5,-2.3,-1.5,-.7,.8,2.1,3.3,4.1,5.1,6.3,7.3,8.3,9.1,10,11.1,12.3,13.3],[27.9,-2.4,-.9,0,1.1,2.2,3.2,4.3,5.8,6.8,8.6,9.6,11.1,12,13.1,14.6],[27.35,-2.7,-.9,.2,1.3,3.3,3.8,4.8,6.3,6.8,8.3,10.6,11.8,12.6,14.2],
[26.8,-2,-1.4,-.3,.6,1.8,2.8,4.6,5.3,7.7,8.9,12.1,14.1],[26.2,-1.9,-.5,.46,1.3,2.5,3.6,4.45,5.6,6.3,8.6,8.8,12.8,13.3],[25.65,-1.8,0,.6,1.3,2.2,3.2,3.8,4.6,5.8,7,7.4,11.7,14.1],[25.1,-1.5,-.8,.2,2.1,3,3.8,4.6,5.3,6.2,7,8.1,8.3],
[24.5,-1.7,-.5,.46,1.1,1.8,3,4.1,4.6,5.8,6.6,7.3,8.2],[24,-1.3,0,1.8,2.7,4.1,5.3,6.1,7.2],[23.5,-.7,.1,.8,1.6,2.3,3.1,5.2,6,7],[22.9,-.3,.6,1.3,2.1,2.8,3.6,5.3,5.7,7.1],[22.5,-1.7,-.5,.46,1.3,2.1,2.8,3.1,6.45,7.1,9.4,10.2],
[21.9,.1,1.1,2,2.8,3.45,4.45,5.1,5.6,9,9.8,10.8,11.3],[21.2,-2.3,.8,1.6,2.75,4.8,5.3,10.1,11.1],[20.7,-2.5,.1,.8,2,3,4.6,5.45,11.2],[20.2,-2.5,.1,2.1,3.45,4.1,5.3,11.4],[19.6,4.3,4.6],[19,4.3,4.7],[18.2,4.3,4.8],[16.7,4.6,5.2,5.8],[16.1,4.8,5.3],[15.7,4.2,5],[15.1,2.6,3.3,4.45,5],[14.8,4.3,4.8,3],[14.1,2],[13.9,2],
[40.55,2.9,3.5,4.2],[39.9,1.9,2.8,3.6,4.3,5.6,6.2,7.4],[39.3,.8,1.5,2.2,2.9,3.6,4.7,5.5,7.9],[38.7,.1,.8,1.7,2.1,2.9,3.6,4.3],[38.1,.1,.9,1.7,2.5,3.3,4,4.9],[37.5,.4,1.3,2,2.7,3.5,4.4],[36.9,-.8,.5,1.2,1.9,2.6,3.3,4.1,7.1,8,8.4],[36.3,-.1,.6,1.4,2.2,3,3.8,4.5,5.2,6.4,7.1,7.9,8.7,9.3],[35.7,-.1,.6,1.4,2.1,2.8,3.4,4.1,4.9,5.7,6.6,7.3,8,8.8],
[35.1,-2.4,-1.6,.5,1.5,2.5,3.4,4.1,4.8,5.5,7.2,7.8,8.6,9.4],[34.5,-1.8,-.7,.7,1.4,2.6,3.5,4.3,5.2,6.1,6.9,7.6,8.3,9.2,10],[33.9,-.7,.2,1.1,1.9,2.6,3.4,4.1,4.8,5.9,8.9,9.8],[33.3,-1.2,-.4,.4,1.2,1.9,3.2,3.9,4.7,5.4,6.2,7,8.8,9.6,10.2],[32.7,-1.2,-.4,.5,1.2,2,3.6,4.6,5.4,6.1,6.8,7.6,9,9.7],[32.1,-1.2,-.2,.6,1.3,2.2,3.7,4.4,5.1,5.9,6.7,7.4,8.3,9.7],
[31.5,-2.7,-2,-1,-.2,.6,1.5,2.2,3.1,3.9,5,5.8,6.5,7.3,8.1],[30.9,-1.6,-.7,.1,1,1.8,2.8,3.8,4.9,5.7,6.4,7.3,8.1,9.2],[30.3,-1.3,-.4,.5,1.3,2.1,2.9,3.9,4.8,6,7.4,8.4,9.6],[29.7,-2.2,-1.2,-.4,.7,1.6,2.2,3.1,4,5.2,6.9,7.7,8.6],[28.85,-2.9,-2,-1.3,-.3,.6,1.8,2.9,3.8,4.7,5.7,6.8,7.7,8.7,9.6,10.5,11.6,12.5],[28.2,-1.9,-1.1,.2,1.5,2.7,3.7,4.7,5.6,6.7,8,8.9,10.4,11.6,12.7],
[27.6,-1.6,.5,1.7,2.7,3.5,4.5,5.3,6.3,9.1,11.4,12.3],[27.05,-2.3,-1.6,-.5,.8,2.3,3.5,4.3,5.8,7.3,8.6,12.4],[26.5,-1.7,-.9,.1,1,2.2,3.2,4.9,5.5,8.1],[25.9,-1.3,.3,1,1.8,2.9,4.1,5.1,6,7.2,8.5],[25.4,-1.2,.2,1,2.6,3.4,4.2,5,5.7,6.6,7.7],[24.8,-1,.2,.8,1.5,2.5,3.4,4.4,5.4,6.6,7.6],[24.25,-.8,.9,1.4,2.3,3.5,4.6,5.7,6.9],[23.75,-.4,.5,1.2,2,2.8,3.6,5.7,6.6],[23.2,0,1,1.7,2.5,3.3,5.5,6.5],[22.7,0,.9,1.7,2.5,3.3,5.5,6.8],[22.2,.8,1.7,2.4,3.3,4,4.8,9.7,10.5],[21.55,.3,1.4,2.3,3.1,4.7,5.4,10.4,10.9],
// pravy ocas
[32.1,11.8],[31.5,11,12.9],[31,11.6,11.9,13.4],[30.5,10.6,11,11.6,12.5,13.1,14,14.5],[30,10.6,12.4,12.9,13.3,14,14.5,15],[29.4,15.1,15.5],[28.8,15.6,16,16.7],[28.3,14.3],[27.7,14.5,14.9],
[27.1,14.8,15.5,16.3,17.4,18.2],[26.4,12.6,13.3,14.8,15.3,16,17.3,18.1],[25.8,11.7,12.2,13.1,14.7,15.6,16.4,17.7,19,20.2],[25.1,15.3,16,17.3,18.1,19,19.8,20.8,21.8],[24.3,14.1,14.8,15.6,16.3,17,17.8,18.5,19.3,20.3,21.3,22.3,24,25],
[23.5,13.6,16.1,16.8,17.6,18.5,19.3,20,20.8,21.5,23,24,27.3],[22.9,16.1,17.1,18.3,19.3,20.2,21,21.5,23.5,24.5,25.5,26.5,27.5,28.2],[22.4,17.1,18.8,19.5,20.5,21.8,23,24,25,25.8,26.8,27.5],[21.7,17.1,17.3,18.8,19.5,21,22.3,23,24,26,27],[21,17.6,21,21.7,22.3,23],[20.5,17.7,21.7],[19.5,20.7,21.2],
[26.75,13,15.1,15.9,17.8],[26.1,11.9,12.8,15,16.2,17,18.5],[25.45,15.1,15.7,17.5,18.4,19.4,20.5,21.2],[24.7,15.6,16.2,17.6,18.5,19.4,20.4,21.3,22,22.6],[23.9,14.5,16,16.6,17.4,18.9,19.8,20.7,21.8,23.3,24.4],[23.2,16.5,17.2,18,19,19.8,20.5,21.2,24.5,25,26.9,27.9],[22.65,16.6,18,18.9,19.9,20.9,22.7,24.3,25.2,26,27,28],[22.05,17.3,19.1,20.1,21.2,22.4,23.4,24.6,25.6,26.5],[30.25,11.3,12,13.6],[29.7,10.6,11.4,12.2,13,14.7],[23.3,13.9,14.6],
// levy shluk
[36,-12.1,-11.6],[35.5,-12.5,-12,-11.4,-10.9,-10.6],[34.9,-13.6,-12.7,-12.1,-11.5,-10.9],[34.4,-13.6,-12.5,-11.9,-11.2,-10.5],[33.9,-23.1],[33.8,-13,-12.5,-11.9,-11.3,-10.6],[33.4,-25.6,-25,-24.5,-23.7,-23.1,-22.7],[33.2,-13.3,-12.6,-11.9,-11.2,-10.5,-9.8],[32.8,-25,-24.3,-23.6,-23,-22.6],[32.6,-13.5,-12.8,-12.3,-11.5,-10.8,-10.1],[32.3,-24.9,-24.2,-23.5,-22.2],[32,-13.6,-12.9,-12.4,-11.4,-10.9],[31.7,-24.1,-23.4,-22.9],[31.4,-13.6,-13,-12.3,-11.5,-10.9,-9.6],[31.1,-24,-23.4],[30.9,-13.3,-12.6,-11.9,-11.2,-10.6],[30.5,-24.1,-23.8],[30.3,-14.3,-13.7,-13,-12.2,-11.5,-11,-10.4],[30,-13.6,-13.1,-11.8,-11.3,-11],[29.6,-24.6,-24,-23.6],[29.5,-13.9,-13,-12.4,-11.9],[28.9,-11.1,-15.5],[28.6,-11.9],[28.5,-25.4,-24.8,-24.3,-23.7,-23.2,-22.8],[28.4,-14.6],[28,-12.5,-15.1],[27.8,-24.8,-24.6,-23.4,-11.5],[27.6,-16],[27.2,-21.5,-16.4,-11.4],[27,-22.5,-22],[26.7,-11.3],[26.4,-23.1,-17.1],[26,-22.1],[25.9,-17.9,-16.4],[25.4,-22,-21.1,-19.1],[25.2,-16.8],[25.1,-23.5,-15.8],[24.7,-22.9,-21.9,-18.1,-16.8],[24.5,-31.4,-30.2,-27.3,-26,-20.9,-18.9],[24.2,-22.1,-21.2,-18.2,-16],[23.8,-32.2,-31.4,-30.5,-29.8,-28.2,-27.5,-26.7,-25.9,-25,-24.5,-22.7],
[35.2,-12.3,-11.7,-11.1],[34.65,-12.9,-12.2,-11.5,-10.8],[34.1,-12.7,-12.2,-11.6,-11],[33.5,-12.8,-12.2,-11.6,-10.9,-10.1],[32.9,-12.7,-12,-11.3,-10.5],[32.3,-13.2,-12.6,-11.9,-11.1],[31.7,-13.2,-12.6,-11.9,-11.1],[31.15,-13.5,-12.9,-12.2,-11.4,-10.8],[30.6,-13.6,-12.9,-12.4,-11.7,-11.1],[33.15,-25.2,-24.6,-24,-23.4,-22.9],[32.55,-24.6,-24,-23.3,-22.8],
[23.3,-22.2,-21.2,-20.6,-20],[22.9,-33.2,-32.2,-31.1,-30.1,-29.4,-28.4,-27.4,-25.9,-24.6,-24.2],[22.6,-21.4,-20.9],[22.2,-34.5,-33.7,-32.6,-31.6,-30.6,-29.6,-28.4,-27.6,-25.7,-24.5,-22.2],[21.6,-35.5,-34.6,-33.7,-32.7,-31.7,-30.7,-29.7,-27.4,-25.9,-24.2,-23.1,-22.4,-21.5,-20.1,-19.2],
[21,-36.2,-35.1,-34.1,-32.6,-31.6,-30.6,-29.6,-28.6,-27.7,-26.9,-25.6,-24.4,-22.9,-21.9,-20.4,-19.4,-18.7,-17.9,-16.8],[20.4,-35.8,-34.8,-33.8,-31.8,-30.8,-29.8,-28.8,-28.1,-27.1,-25.9,-24.5,-23.2,-22.6,-19.4,-17.9,-17.1,-16.4],
[19.7,-35.4,-34.3,-33.7,-32.3,-31.3,-29.8,-28.8,-27.7,-26.4,-25.6,-24.4,-23.4,-21.7,-20.9,-19.2,-18.1,-17.4,-16.5],[19,-36.5,-34.8,-33.7,-32.3,-31.3,-28.4,-27.6,-26.6,-25.6,-24.9,-24,-22.9,-20,-19,-18.1,-17.1],
[18.4,-36.5,-35.1,-34.7,-33.1,-32.2,-31.3,-28.1,-27.1,-25.9,-24.4,-23.7,-21.2,-20.1,-19.4,-17.6],[17.7,-36.7,-36.1,-34,-33,-32.4,-30.4,-29.1,-28.4,-27.4,-25.9,-24.9,-23.9,-22.4,-22,-20.6,-19.1,-17.6],
[17,-37.2,-36.7,-35.8,-34.8,-33.8,-32.6,-31.6,-29.8,-28.8,-27.8,-26.7,-25.6,-24.6,-22.6,-21.6,-20.9,-19.4,-18],[16.3,-38,-37.1,-36.1,-35.1,-34.1,-33.3,-32.6,-31.1,-30.1,-29.1,-28.1,-27.1,-25.9,-25,-23.6,-21.9,-21.1,-20.1,-19,-18.4],
[15.6,-38.1,-36.7,-35.3,-33.1,-32.6,-31.7,-30.5,-29.7,-28.2,-26.9,-25.9,-24.2,-23.5,-22.6,-21.4,-20.5,-19.3],[14.9,-36.7,-35.8,-33.8,-32.8,-31.3,-30.2,-29.1,-28.2,-27.1,-22.7,-21.9,-20.8,-19.9,-19],[14.2,-36.2,-33.5,-32.6,-31.6,-31,-29.8,-28.6,-27.4,-26.4,-25.6,-24.5,-19.2],
[13.5,-36.2,-34.9,-32.6,-30.4,-29.7,-28.4,-27,-26.5,-25],[12.9,-37.1,-36.1,-34.8,-33,-32.6,-31.1,-30.1,-28.6,-28.4,-26.7,-25.6],[12.2,-37.7,-36.6,-35.6,-34.6,-33.2,-32.6,-31.4,-30.4,-29.7,-28.7,-25.6],[11.5,-39.6,-37.7,-36.9,-36.1,-31.4,-28.1,-25.7],
[10.8,-39.6,-38.7,-38.1,-36.8,-35.8,-33.7,-32.7,-31.3,-30.1,-28.6,-28.1,-27.4,-26.7,-26.2],[10.2,-39.3,-38.6,-37.6,-36.6,-35.3,-33.3,-32.6,-31.9,-31.3,-30.1,-28.2,-27.5,-26.4],[9.5,-39.5,-38.6,-37.5,-36.7,-35.3,-34.1,-31.7,-30,-27.6],
[8.9,-39.6,-38.5,-37.3,-36.7,-35.9,-35.1,-33.9,-33.3,-32,-26],[8.2,-39.3,-38.5,-37.2,-35.8,-33.7,-32.8,-32.4,-30.6,-26.7,-25.9,-25.2],[7.6,-37.3,-35.8,-34.8,-33.8,-32.8,-30.2,-26.6,-26],[7,-38.2,-37.3,-36.1,-34.8,-33.6,-32.5,-32,-30.2],
[6.4,-39.6,-38.8,-37.3,-36.1,-34.8,-33.5,-30.6],[5.7,-39.8,-38.2,-37.2,-35.8,-34.7,-33.7,-32.3,-30.6],[5,-39.6,-37.9,-37.1,-36.1,-35.1,-34,-33.5,-32.6,-31.2],[4.4,-40.4,-38.5,-37.3,-36.5,-34.1,-31.2,-27.1,-26.5],[3.9,-41.1],[3.7,-39.3,-38.6,-37.7,-36.8,-35.8,-34.6,-31.9,-31.2,-30.6,-28.7],
[3,-39.6,-38.8,-37.3,-36.2,-34.6,-33.5,-32.8,-30.8,-30.4,-29,-28.2,-26],[2.4,-39.1,-38.1,-37.1,-36.1,-35.1,-33.7,-30.8,-30.2,-32.6,-31.8],[1.7,-39.5,-37.3,-36.8,-35.6,-34.8,-33.7,-32.6,-31.8,-31.1],[1,-36.7,-34.8,-31.1],[.5,-38.2,-35.7,-34.8,-33.5,-34.3],[-.1,-37.1,-36.3,-35.6,-34.7,-34.2],[-.6,-35.5,-36.3],[-1.2,-37.3,-35.3],[-1.6,-33],
[23.5,-32,-31,-30.1,-28.6,-27.8,-26.9,-26.1,-25.4],[22.55,-33.7,-32.9,-31.9,-31,-30.2,-29,-27.9,-26.5,-25.3],[21.9,-35,-34,-33.1,-32.2,-31.2,-30.2,-29.2,-28.2,-27,-25.2,-23.6,-22.8],[21.3,-35.8,-35,-33.9,-33,-32.2,-31.1,-30.2,-29.1,-28.1,-26.3,-25,-23.5,-22.3,-21.2,-19.7,-18.9,-18.3,-17.3],[20.7,-35.5,-34.4,-33.5,-32.3,-31.3,-30.4,-29.3,-28.4,-27.5,-26.4,-25.2,-24,-22.9,-19.9,-19,-18.3,-17.5,-16.8],
[20.05,-34.9,-34.1,-33.2,-32,-31,-30.3,-29.3,-27.4,-26.7,-25.2,-24.5,-23.6,-22.9,-22,-21.4,-18.9,-17.7,-16.9],[19.35,-35.1,-34,-32.9,-31.8,-29.4,-28.6,-27.9,-27,-25.9,-25.2,-24.1,-23.2,-21.4,-20.5,-19.5,-18.6,-17.7],[18.7,-36.2,-35.2,-33.4,-32.7,-28.7,-27.3,-26.2,-25.2,-24.4,-23.4,-20.6,-19.7,-18.6,-17.8],[18.05,-36.6,-35.1,-33.6,-32.7,-31.7,-30.9,-28.6,-27.6,-26.6,-25.3,-24.3,-21.5,-20.4,-18.3],
[17.35,-36.4,-35.5,-34.4,-33.4,-32.2,-31,-29.6,-28.7,-27.9,-26.8,-25.4,-24.2,-23.2,-22.2,-21.2,-19.8,-18.6],[16.65,-37.5,-36.4,-35.4,-34.5,-33.3,-32,-31.4,-30.5,-29.4,-28.4,-27.4,-26.2,-25.1,-24.2,-23.2,-21.5,-20.6,-19.7,-18.7],[15.95,-37.6,-35.7,-34.6,-33.7,-32.9,-30.8,-29.9,-29.4,-28.6,-27.6,-26.5,-25.4,-24.6,-23.3,-21.6,-20.8,-19.6],[15.25,-36.3,-35.2,-33.5,-32.9,-32,-31,-30.2,-29.3,-28.5,-27.6,-26.4,-22.3,-21.2,-20.4,-19.4],
[14.55,-36.5,-35,-33.2,-32.1,-31.3,-30.4,-29.2,-28,-26.9,-26,-25,-22.6,-21.4,-20.1],[13.85,-35.5,-33,-31.2,-30,-29,-27.7,-26.8,-25.7,-25],[13.2,-36.6,-35.5,-33,-30.6,-28.5,-26.8,-25.8],[12.55,-37.4,-36.4,-35.2,-34,-33,-30.8,-29.9,-29.1,-28.4,-26.2],[11.85,-38.2,-37.1,-36.2,-35.1,-31.1,-28.4,-26.3],[11.15,-39.4,-37.2,-36.3,-35.3,-33.2,-32.2,-31.4,-30.6,-28.3,-27.7,-27,-26],[10.5,-39,-38.2,-37.1,-36,-34.8,-33.8,-33,-32.2,-31.6,-30.4,-28,-26.9],
[9.85,-39.4,-38.1,-37.1,-35.8,-34.7,-33.7,-32.9,-32,-31.5,-30.3],[9.2,-39,-38.1,-37,-36.2,-35.6,-34.6,-33.5,-32.6,-31.8,-30.9],[8.55,-39,-38,-37,-35.4,-33.5,-32.7,-32.2],[7.9,-37.3,-36.4,-35.2,-34.2,-33.3,-32.6,-31.9,-30.4],[7.3,-37.9,-36.9,-35.4,-34.3,-33.3,-32.2],[6.7,-38.6,-37.8,-36.7,-35.4,-34,-33,-30.4],[6.05,-39.2,-37.7,-36.7,-35.3,-34.2,-33.1,-30.9],[5.35,-38,-36.6,-35.6,-34.4,-33.7,-32.9,-31.5],[4.7,-38.2,-37.5,-36.6,-35.6,-34.6,-33.2,-31],[4.05,-38.9,-37.9,-36.9,-35.9,-34.9,-33.7,-31.5],[3.35,-39,-38,-37,-36.1,-35.2,-34.2,-32.4,-31,-30.3,-28.5],[2.7,-39.4,-38.6,-37.6,-36.6,-35.6,-34.4,-33.2,-31.3,-30.5],[2.05,-38.3,-37,-36.4,-35.4,-34.2,-33,-32.2,-31.4,-30.7],[1.3,-35.2,-34.3,-33.4,-32.1],[.8,-37,-36,-35.2,-34.5]
];
const tCd8Pts = [[54.2,2.66],[1.8,-48.2],[-.4,15.6],[.1,15.4],[-1.2,14.9],[-1.7,14.7],[25.7,20.6],[-21.7,-2.9],[-27,2.9],
[-17.8,-9.7],[-9.4,-8.5],[-10,-9.1],[-9.7,-9.6],[-3.2,-8.4],[-6.4,-11],[-6.4,-15.1],[-16.55,-17],[-15.3,-15.85],[-15.3,-18.6],[-14.7,-17.2],[-13.7,-17.4],[-12.8,-15.5],[-10.8,-17.9],[-11.4,-18.2],[-9.1,-16.4],[-9.6,-17.2],[-8.8,-17.9],[-7.7,-18.6],[-6.1,-19.6],[-6,-18.6],[-4.4,-19.8],[-8.4,-19.8],[-7.7,-20.6],[-9.6,-21.5],[-9.1,-20.4],[-3.8,-16.2],[-4.9,-18.4],[-3,-16.9],[-3.1,-24.5],[-6,-24.2],[-9.1,-23],[-18.2,-13.1],[-17.8,-12.8],[-11.4,-13.6],[-10.8,-14.4],
[-15.7,-24.8],[-16.9,-24.4],[-16.3,-26],[-15.6,-26.2],[-14.4,-27.6],[-6.4,-26.3],[-16.3,-30.5],[-14.1,-29.1],[-14.9,-31.5],[-12.7,-31.7],[-8.7,-31.5],[-6.8,-31.4],[-4.8,-28.1],[-3.7,-31.2],[-4.6,-31.2],[-15,-34.4],[-8.1,-32.7],[-7.7,-34.2],[-6.6,-33.3],[-7,-35.1],[-11.2,-35.2],[-13.1,-35.5],[-11.7,-37.5],[-11.3,-38.6],[-9.8,-36.9],[-9.8,-38.8],[-10.4,-28.1],[-8,-28.3],[-2.7,-28.6],
[-2.8,4],[-.8,6.5],[-.95,5],[-.6,4.8],[-3.4,3],[-1.6,2.75],[-3.7,2.6],[-2.5,2],[-3.6,1.6],[-.5,1.6],[.55,2.15],[1.8,4.4],[2.6,5.2],[3.9,2.5],[7.5,2.3],[8.9,2.45],[8.7,1.85],[11.8,2.5],[5.9,.7],[2.8,.85],[-1.4,.65],[-3.8,.65],[-5.2,1.1],[-5.6,1.85],[-4.8,1.9],[-5.3,-.6],[-3.8,-.6],[-2.8,-1.2],[-3.3,-1.8],[-2.8,-1.8],[-5,-2.1],[-.7,-.9],[.3,-1.9],[-1.9,-3.6],[-2,-2.85],[.4,-3],[.5,-2.4],[3.4,-.7],[4.4,-1],[4,-.4],[7.5,-1.9],[7,-3.3],[10.9,-3.45],[13.3,-.5],[13.9,-1.9],[12.8,-4.6],[14.2,-4.65],[13.4,-5.15],[12.2,-3.75],[2.3,-4.2],[3.7,-4.2],[.1,-4.35],[.3,-5],[-1.5,-5],[.05,-5.1],[1.1,-6.1],[2.3,-6.3],[8.7,-5.4],[7.2,-6.9],[4.4,-8.3],[10.9,-8],[8.9,-8.8],[16.7,-8.2],[3.7,-7.7],[19.1,-10],[19.4,-10.55],[18.3,-11.15],[29.1,-4.2],[26.4,-13],[31,-17.35],[25.4,-18.5],[10.6,-12.65],[20.1,-14.9],[17.2,-17.65],[3.7,-15.4],[.6,-15.4],[2.6,-12.4],[.2,-11.3],[-.6,-11.45],[-1.1,-9.5],[-.8,-8.7],[-1.4,-9.5],[-1.6,-10.85],[2.2,-9.65],[3.3,-9.8],[3.3,-9],[5.1,-10.55],[-3.3,-8.4],[-.4,-7.1],[-3.1,-14.2],[-.6,-15],[.3,-12.5],[-1.9,-20.5],[-4.4,-19.8],[-3,-16],[-3,-16.9],[-3.1,-18.6],[-4.1,-16.1],[-4.7,-28.1],[-3.4,-29],[-4.5,-29.9],[-3.8,-31.3],[-4.6,-31.2],[9.4,-24.1],[-3.1,-24.6],[8.2,-32.8],[10.1,-32.5],[9,-33.7],[11.7,-32.8],[3,-23.5],
[17.3,9.4],[17.7,8.8],[15.6,8.5],[23.5,10],[22.9,9],[42.5,16.9],[33.5,13.7],[36.27,9.8],[33.3,11.5],[40.7,11.6],[37.8,9.45],[36.75,9.8],[35.1,10.2]];

function body(rows, pts) {
    const z = rows.flatMap(([y, ...xs]) => xs.map(x => ({ x: x, y: y })));
    return z.concat(pts.map(p => ({ x: p[0], y: p[1] })));
}

// order: mensi cislo = kresli se navrch
const sady = [
    { data: body(bRows, bPts), order: 9 },
    { data: body([], dcPts), order: 3 },
    { data: body([], endoPts), order: 2 },
    { data: body(fibroRows, fibroPts), order: 4 },
    { data: body([], mastPts), order: 8 },
    { data: body(nkRows, nkPts), order: 5 },
    { data: body([], plasmaPts), order: 1 },
    { data: body(tCd4Rows, tCd4Pts), order: 6 },
    { data: body(tCd8Rows, tCd8Pts), order: 7 }
].map((s, i) => ({
    label: kategorie[i],
    data: s.data,
    order: s.order,
    backgroundColor: barvy[i],
    borderWidth: 0,
    pointRadius: 7.5,
    pointHoverRadius: 7.5,
    pointStyle: 'circle'
}));
sady.push({ label: 'B navrch', data: body(bNahoreRows, []), order: 0, backgroundColor: barvy[0], borderWidth: 0, pointRadius: 7.5, pointStyle: 'circle' });

// kolecko do legendy: se sirokym boxem by Chart.js kreslil elipsu
function kolecko(barva) {
    const c = document.createElement('canvas');
    c.width = 30;
    c.height = 30;
    const g = c.getContext('2d');
    g.fillStyle = barva;
    g.beginPath();
    g.arc(15, 15, 14, 0, Math.PI * 2);
    g.fill();
    return c;
}

// legenda je v originale odsazena od grafu, layout to sam neumi
const posunLegendy = {
    id: 'posunLegendy',
    afterLayout(chart) {
        const l = chart.legend;
        l.left = 2322;
        l.right = 2700;
        l.top = 538;
        l.bottom = 1800;
        l.width = l.right - l.left;
        l.height = l.bottom - l.top;
    }
};

new Chart(document.getElementById('graf').getContext('2d'), {
    type: 'scatter',
    data: { datasets: sady },
    plugins: [posunLegendy],
    options: {
        responsive: false,
        animation: false,
        clip: false,
        layout: { autoPadding: false, padding: { top: 22.7, left: 0, bottom: 0, right: 73 } },
        plugins: {
            tooltip: { enabled: false },
            legend: {
                position: 'right',
                align: 'start',
                labels: {
                    usePointStyle: true,
                    pointStyleWidth: 76,
                    boxHeight: 20,
                    padding: 31,
                    color: '#000',
                    font: { family: 'Liberation Sans', size: 41, lineHeight: 1 },
                    generateLabels: chart => Chart.defaults.plugins.legend.labels.generateLabels(chart)
                        .map(l => ({ ...l, pointStyle: kolecko(l.fillStyle) })),
                    filter: item => item.text !== 'B navrch',
                    sort: (a, b) => a.datasetIndex - b.datasetIndex
                }
            }
        },
        scales: {
            x: {
                type: 'linear',
                min: -45.9,
                max: 59,
                afterFit: s => { s.height = 129; s.paddingLeft = 0; s.paddingRight = 0; },
                afterBuildTicks: s => { s.ticks = xTicks.map(v => ({ value: v })); },
                border: { color: '#000', width: 4 },
                grid: { drawOnChartArea: false, tickLength: 12, tickWidth: 4, tickColor: '#333333' },
                ticks: { color: '#4D4D4D', padding: 6, maxRotation: 0, autoSkip: false, font: { family: 'Liberation Sans', size: 36 } },
                title: { display: true, text: 'TSNE_1', color: '#000', font: { family: 'Liberation Sans', size: 45 }, padding: { top: 0, bottom: 19 } }
            },
            y: {
                type: 'linear',
                min: -52.57,
                max: 45.2,
                // bez toho si osa nechava nahore misto na popisek a layout.padding se neprojevi
                afterFit: s => { s.width = 148.7; s.paddingTop = 0; s.paddingBottom = 0; },
                afterBuildTicks: s => { s.ticks = yTicks.map(v => ({ value: v })); },
                border: { color: '#000', width: 4 },
                grid: { drawOnChartArea: false, tickLength: 12, tickWidth: 4, tickColor: '#333333' },
                ticks: { color: '#4D4D4D', padding: 10, autoSkip: false, font: { family: 'Liberation Sans', size: 36 } },
                title: { display: true, text: 'TSNE_2', color: '#000', font: { family: 'Liberation Sans', size: 45 }, padding: { top: 15, bottom: 0 } }
            }
        }
    }
});
</script>
</body>
</html>
